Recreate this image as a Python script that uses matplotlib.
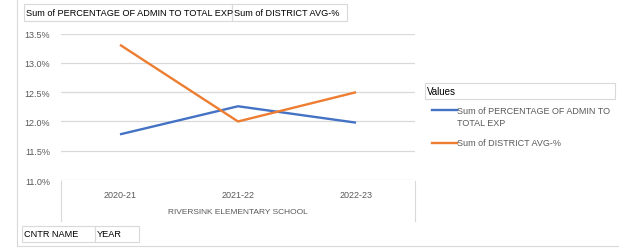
import matplotlib
matplotlib.use('Agg')
import matplotlib.pyplot as plt
from matplotlib.patches import Rectangle
from matplotlib.lines import Line2D

# Data
years = ['2020-21', '2021-22', '2022-23']
admin_pct = [11.78, 12.26, 11.98]
district_avg = [13.31, 12.00, 12.50]
y_ticks = [11.0, 11.5, 12.0, 12.5, 13.0, 13.5]
series_names = ['Sum of PERCENTAGE OF ADMIN TO TOTAL EXP', 'Sum of DISTRICT AVG-%']
school = 'RIVERSINK ELEMENTARY SCHOOL'

BLUE = '#4472C4'
ORANGE = '#ED7D31'
GRID = '#D9D9D9'
TXT = '#595959'

matplotlib.rcParams['font.family'] = ['Liberation Sans', 'DejaVu Sans']

W, H = 619, 253
fig = plt.figure(figsize=(W / 100, H / 100), dpi=100)


def fx(px):
    return px / W


def fy(py):
    return 1 - py / H


def fig_line(x0, y0, x1, y1, color=GRID, lw=0.8):
    fig.add_artist(Line2D([fx(x0), fx(x1)], [fy(y0), fy(y1)], color=color, lw=lw))


def button(x0, y0, x1, y1, text, size=6.6):
    fig.add_artist(Rectangle((fx(x0), fy(y1)), fx(x1 - x0), (y1 - y0) / H,
                             fill=False, edgecolor=GRID, lw=0.8))
    fig.text(fx(x0 + 2), fy((y0 + y1) / 2), text, fontsize=size, color='black',
             ha='left', va='center')


# plot area
ax = fig.add_axes([fx(61), fy(181), fx(415 - 61), (181 - 34.7) / H])
x = range(len(years))
ax.plot(x, admin_pct, color=BLUE, lw=1.7, solid_capstyle='butt')
ax.plot(x, district_avg, color=ORANGE, lw=1.7, solid_capstyle='butt')
ax.set_xlim(-0.5, len(years) - 0.5)
ax.set_ylim(11.0, 13.5)
ax.set_yticks(y_ticks)
ax.set_yticklabels([f'{v:.1f}%' for v in y_ticks], fontsize=6.5, color=TXT)
ax.set_xticks(list(x))
ax.set_xticklabels(years, fontsize=6.5, color=TXT)
ax.tick_params(axis='both', length=0)
ax.tick_params(axis='y', pad=8)
ax.tick_params(axis='x', pad=7)
for s in ax.spines.values():
    s.set_visible(False)
ax.grid(axis='y', color=GRID, lw=0.9)
ax.set_axisbelow(True)

# category field box under the axis
fig_line(61, 181.5, 61, 222)
fig_line(415, 181.5, 415, 222)
fig.text(fx(238), fy(213), school, fontsize=6.0, color=TXT, ha='center', va='center')

# outer chart border (left and bottom)
fig_line(17, 0, 17, 247)
fig_line(17, 247, 619, 247)

# field buttons
button(24, 5, 232, 22, series_names[0])
button(232, 5, 347, 22, series_names[1])
button(22, 227, 95, 243, 'CNTR NAME')
button(95, 227, 139, 243, 'YEAR')

# legend
button(425, 84, 615, 100, 'Values', size=7)
fig_line(432, 111, 457, 111, color=BLUE, lw=1.7)
fig.text(fx(457), fy(111), 'Sum of PERCENTAGE OF ADMIN TO', fontsize=6.5, color=TXT,
         ha='left', va='center')
fig.text(fx(457), fy(124), 'TOTAL EXP', fontsize=6.5, color=TXT, ha='left', va='center')
fig_line(432, 144, 457, 144, color=ORANGE, lw=1.7)
fig.text(fx(457), fy(144), series_names[1], fontsize=6.5, color=TXT,
         ha='left', va='center')

plt.savefig('out.png', dpi=100)
plt.close()
